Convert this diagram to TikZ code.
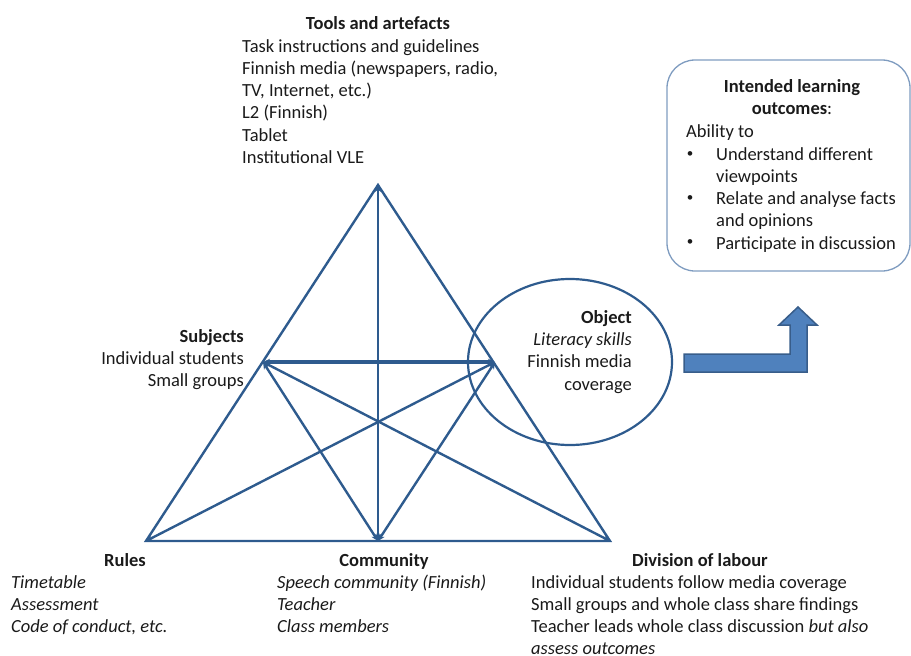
\documentclass[tikz,border=0pt]{standalone}
\usepackage{fontspec}
\setmainfont{Carlito}
\usetikzlibrary{arrows.meta,shapes.geometric}
\definecolor{lineblue}{HTML}{2E5B8E}
\definecolor{arrowfill}{HTML}{4F81BD}
\definecolor{arrowdraw}{HTML}{385D8A}
\definecolor{boxdraw}{HTML}{7F9CC0}
\definecolor{txt}{HTML}{1A1A1A}
\tikzset{
  edge/.style={draw=lineblue, line width=2.4pt},
  link/.style={draw=lineblue, line width=2.4pt, {Stealth[length=7pt,width=6.5pt]}-{Stealth[length=7pt,width=6.5pt]}},
  txtblock/.style={inner sep=0pt, font=\fontsize{18.5}{22.3}\selectfont, text=txt},
  narrow/.style={inner sep=0pt, font=\fontsize{18.5}{22}\selectfont, text=txt},
}
\begin{document}
\begin{tikzpicture}[x=1pt,y=-1pt]
\useasboundingbox (0,0) rectangle (911,656);
% vertices
\coordinate (T) at (378,185);
\coordinate (BL) at (146,541);
\coordinate (BR) at (610,541);
\coordinate (BM) at (378,541);
\coordinate (S) at (263,362);
\coordinate (O) at (495,362);
% ellipse
\node[draw=lineblue, line width=2.2pt, ellipse, minimum width=204pt, minimum height=166pt, inner sep=0pt] (objc) at (570,362) {};
% outer triangle
\draw[edge, line join=miter] (T) -- (BL) -- (BR) -- cycle;
% internal links
\draw[link] (T) -- (BM);
\draw[link, line width=4.5pt] (S) -- (O);
\draw[link] (S) -- (BM);
\draw[link] (O) -- (BM);
\draw[link] (S) -- (BR);
\draw[link] (O) -- (BL);
% bent up arrow
\draw[fill=arrowfill, draw=arrowdraw, line width=1.5pt, line join=miter]
  (684,354) -- (790,354) -- (790,325) -- (779,325) -- (798,307) -- (817,325) -- (807,325) -- (807,372) -- (684,372) -- cycle;
% outcomes box
\draw[boxdraw, line width=1.3pt, rounded corners=28pt] (667,60) rectangle (910,271);
% texts
\node[txtblock, anchor=base] (toolsh) at (378,29) {\bfseries Tools and artefacts};
\node[txtblock, anchor=north west, align=left] (tools) at (242,39) {Task instructions and guidelines\\Finnish media (newspapers, radio,\\TV, Internet, etc.)\\L2 (Finnish)\\Tablet\\Institutional VLE};
\node[txtblock, anchor=north east, align=right] (subj) at (244,329) {\bfseries Subjects\\Individual students\\Small groups};
\node[txtblock, anchor=north east, align=right] (obj) at (632,310) {\bfseries Object\\\itshape Literacy skills\\Finnish media\\coverage};
\node[txtblock, anchor=north, align=center] (ilo) at (792,79) {\bfseries Intended learning\\{\bfseries outcomes}:};
\node[txtblock, anchor=north west, align=left] (abil) at (686,124) {Ability to};
\node[txtblock, anchor=north west, align=left] (b1) at (716,147) {Understand different\\viewpoints\\Relate and analyse facts\\and opinions\\Participate in discussion};
\node[txtblock, anchor=center, font=\fontsize{13}{13}\selectfont] (d1) at (690,155) {•};
\node[txtblock, anchor=center, font=\fontsize{13}{13}\selectfont] (d2) at (690,199) {•};
\node[txtblock, anchor=center, font=\fontsize{13}{13}\selectfont] (d3) at (690,243) {•};
\node[narrow, anchor=base] (rulesh) at (125,566) {\bfseries Rules};
\node[narrow, anchor=north west, align=left, font=\fontsize{18.5}{22}\selectfont\itshape] (rules) at (11,575) {Timetable\\Assessment\\Code of conduct, etc.};
\node[narrow, anchor=base] (commh) at (384,566) {\bfseries Community};
\node[narrow, anchor=north west, align=left, font=\fontsize{18.5}{22}\selectfont\itshape] (comm) at (277,575) {Speech community (Finnish)\\Teacher\\Class members};
\node[narrow, anchor=base] (divh) at (700,566) {\bfseries Division of labour};
\node[narrow, anchor=north west, align=left] (div) at (531,575) {Individual students follow media coverage\\Small groups and whole class share findings\\Teacher leads whole class discussion \emph{but also}\\\emph{assess outcomes}};
\end{tikzpicture}
\end{document}
